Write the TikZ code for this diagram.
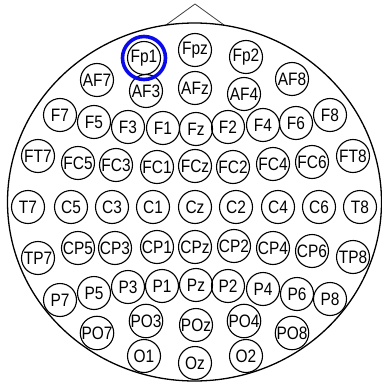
\documentclass[tikz,border=0pt]{standalone}
\usepackage{fontspec}
\setmainfont{Liberation Sans}
\newfontfamily\elecfont[FakeStretch=0.86]{Liberation Sans}
\begin{document}
\begin{tikzpicture}[x=1pt,y=-1pt,
  elec/.style={circle,draw=black,line width=1.1pt,minimum size=33pt,inner sep=0pt,
    font=\elecfont\fontsize{18}{18}\selectfont},
  head/.style={draw=black,line width=1.3pt},
  nose/.style={draw=black!75,line width=0.8pt},
  ring/.style={circle,draw={rgb,255:red,10;green,10;blue,235},line width=3.6pt,minimum size=43pt,inner sep=0pt}]
\useasboundingbox (0,0) rectangle (382,385);
\coordinate (nl) at (166,25);
\coordinate (nt) at (195,4);
\coordinate (nr) at (224,25);
\draw[nose] (nl) -- (nt) -- (nr);
\draw[head] (194.5,202) ellipse [x radius=187,y radius=179];
\foreach \n/\x/\y in {
 Fp1/144/58, Fpz/195/50, Fp2/246/57,
 AF7/97/80, AF3/146/91, AFz/195/88, AF4/244/94, AF8/292/79,
 F7/60/115, F5/94/122, F3/128/127, F1/163/128, Fz/196/129, F2/228/127, F4/263/125, F6/296/123, F8/330/115,
 FT7/38/156, FC5/78/163, FC3/116/165, FC1/157/167, FCz/195/166, FC2/233/167, FC4/273/164, FC6/312/162, FT8/353/156,
 T7/28/207, C5/71/207, C3/112/207, C1/153/207, Cz/195/207, C2/236/207, C4/278/207, C6/319/207, T8/360/207,
 TP7/38/258, CP5/78/248, CP3/115/248, CP1/157/247, CPz/195/247, CP2/234/246, CP4/273/248, CP6/312/251, TP8/353/257,
 P7/60/300, P5/94/293, P3/128/287, P1/162/286, Pz/196/285, P2/228/286, P4/263/289, P6/297/294, P8/330/299,
 PO7/97/333, PO3/146/321, POz/196/325, PO4/244/321, PO8/292/333,
 O1/144/356, Oz/195/363, O2/246/356}
 \node[elec] (\n) at (\x,\y) {\n};
\node[ring] (Fp1ring) at (Fp1) {};
\end{tikzpicture}
\end{document}
